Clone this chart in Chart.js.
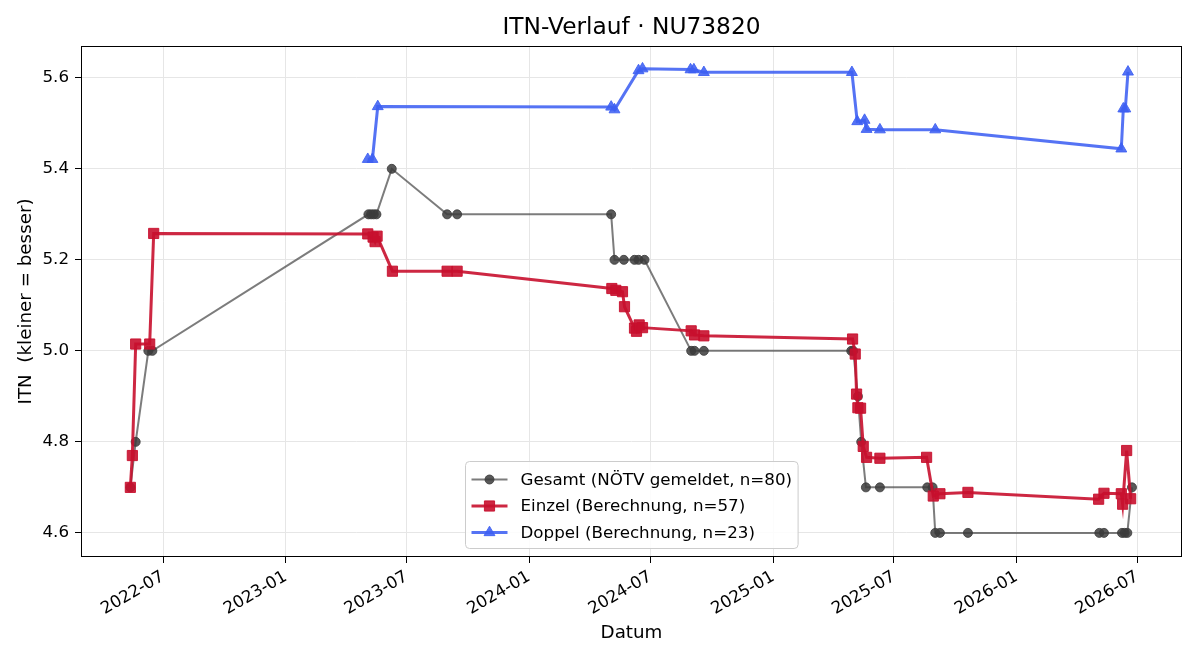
<!DOCTYPE html>
<html>
<head>
<meta charset="utf-8">
<script src="https://cdn.jsdelivr.net/npm/chart.js@4.4.1/dist/chart.umd.min.js"></script>
<style>
  html, body { margin: 0; padding: 0; background: #fff; }
  #wrap { width: 1200px; height: 660px; position: relative; }
</style>
</head>
<body>
<div id="wrap"><canvas id="itnChart"></canvas></div>
<script>
// Achsenbeschriftungen
const xTickLabels = ['2022-07', '2023-01', '2023-07', '2024-01', '2024-07', '2025-01', '2025-07', '2026-01', '2026-07'];
const yTickValues = [4.6, 4.8, 5.0, 5.2, 5.4, 5.6];

// Gesamt (NÖTV gemeldet)
const gesamtDatum = ['2022-05-13', '2022-05-21', '2022-06-09', '2022-06-15',
  '2023-05-05', '2023-05-09', '2023-05-13', '2023-05-17', '2023-06-09', '2023-08-31', '2023-09-15',
  '2024-05-03', '2024-05-08', '2024-05-22', '2024-06-07', '2024-06-13', '2024-06-22',
  '2024-08-31', '2024-09-05', '2024-09-19',
  '2025-04-28', '2025-05-01', '2025-05-08', '2025-05-13', '2025-05-20', '2025-06-10',
  '2025-08-20', '2025-08-28', '2025-09-01', '2025-09-08', '2025-10-20',
  '2026-05-05', '2026-05-12', '2026-06-08', '2026-06-12', '2026-06-16', '2026-06-23'];
const gesamtITN = [4.7, 4.8, 5.0, 5.0,
  5.3, 5.3, 5.3, 5.3, 5.4, 5.3, 5.3,
  5.3, 5.2, 5.2, 5.2, 5.2, 5.2,
  5.0, 5.0, 5.0,
  5.0, 5.0, 4.9, 4.8, 4.7, 4.7,
  4.7, 4.7, 4.6, 4.6, 4.6,
  4.6, 4.6, 4.6, 4.6, 4.6, 4.7];

// Einzel (Berechnung)
const einzelDatum = ['2022-05-13', '2022-05-16', '2022-05-21', '2022-06-11', '2022-06-17',
  '2023-05-04', '2023-05-12', '2023-05-15', '2023-05-18', '2023-06-10', '2023-08-31', '2023-09-15',
  '2024-05-04', '2024-05-10', '2024-05-20', '2024-05-23', '2024-06-07', '2024-06-10', '2024-06-14', '2024-06-19',
  '2024-08-31', '2024-09-05', '2024-09-19',
  '2025-04-30', '2025-05-04', '2025-05-06', '2025-05-08', '2025-05-12', '2025-05-16', '2025-05-21', '2025-06-10',
  '2025-08-19', '2025-08-29', '2025-09-08', '2025-10-20',
  '2026-05-04', '2026-05-12', '2026-06-07', '2026-06-09', '2026-06-15', '2026-06-21'];
const einzelITN = [4.70, 4.77, 5.015, 5.015, 5.258,
  5.257, 5.250, 5.240, 5.252, 5.175, 5.175, 5.175,
  5.137, 5.133, 5.130, 5.097, 5.050, 5.043, 5.057, 5.051,
  5.044, 5.035, 5.033,
  5.026, 4.993, 4.905, 4.875, 4.874, 4.790, 4.766, 4.764,
  4.766, 4.681, 4.686, 4.689,
  4.674, 4.687, 4.686, 4.663, 4.781, 4.675];

// Doppel (Berechnung)
const doppelDatum = ['2023-05-04', '2023-05-11', '2023-05-19',
  '2024-05-03', '2024-05-08', '2024-06-13', '2024-06-19', '2024-08-30', '2024-09-04', '2024-09-19',
  '2025-04-29', '2025-05-07', '2025-05-18', '2025-05-21', '2025-06-10', '2025-09-01',
  '2026-06-07', '2026-06-10', '2026-06-13', '2026-06-17'];
const doppelITN = [5.421, 5.421, 5.537,
  5.536, 5.530, 5.616, 5.620, 5.618, 5.618, 5.612,
  5.612, 5.504, 5.507, 5.487, 5.486, 5.486,
  5.444, 5.532, 5.532, 5.613];

const toMs = s => { const [y, m, d] = s.split('-').map(Number); return Date.UTC(y, m - 1, d); };
const punkte = (datum, werte) => datum.map((d, i) => ({ x: toMs(d), y: werte[i] }));
const xTickValues = xTickLabels.map(l => toMs(l + '-01'));

const schrift = '"DejaVu Sans", sans-serif';

// Rahmen um den Plotbereich
const rahmen = {
  id: 'rahmen',
  afterDatasetsDraw(chart) {
    const { ctx, chartArea: a } = chart;
    ctx.save();
    ctx.strokeStyle = '#000';
    ctx.lineWidth = 1;
    ctx.strokeRect(Math.round(a.left) + 0.5, Math.round(a.top) + 0.5,
      Math.round(a.right - a.left) - 1, Math.round(a.bottom - a.top) - 1);
    ctx.restore();
  }
};

// Legende unten mittig im Plotbereich
const legende = {
  id: 'legende',
  afterDraw(chart) {
    const { ctx, chartArea: a } = chart;
    const sets = chart.data.datasets;
    ctx.save();
    ctx.font = '16.7px ' + schrift;
    const textW = Math.max(...sets.map(ds => ctx.measureText(ds.label).width));
    const w = 55 + textW + 6, h = 87;
    const x0 = Math.round((a.left + a.right) / 2 - w / 2) + 0.5, y0 = Math.round(a.bottom - 9 - h) + 0.5;
    ctx.beginPath();
    ctx.roundRect(x0, y0, w, h, 4);
    ctx.fillStyle = 'rgba(255,255,255,0.85)';
    ctx.fill();
    ctx.strokeStyle = '#cccccc';
    ctx.lineWidth = 1;
    ctx.stroke();
    sets.forEach((ds, i) => {
      const y = y0 + 18 + i * 26.5;
      ctx.strokeStyle = ds.borderColor;
      ctx.lineWidth = ds.borderWidth;
      ctx.beginPath();
      ctx.moveTo(x0 + 6, y);
      ctx.lineTo(x0 + 42, y);
      ctx.stroke();
      ctx.fillStyle = ds.pointBackgroundColor;
      ctx.strokeStyle = ds.pointBorderColor;
      ctx.lineWidth = 1;
      Chart.helpers.drawPoint(ctx, { pointStyle: ds.pointStyle, radius: ds.pointRadius, rotation: 0, borderWidth: 1 }, x0 + 24, y);
      ctx.fillStyle = '#000';
      ctx.textBaseline = 'middle';
      ctx.fillText(ds.label, x0 + 55, y + 1);
    });
    ctx.restore();
  }
};

const ctx = document.getElementById('itnChart').getContext('2d');
const itnChart = new Chart(ctx, {
  type: 'line',
  data: {
    datasets: [{
      label: 'Gesamt (NÖTV gemeldet, n=80)',
      data: punkte(gesamtDatum, gesamtITN),
      borderColor: 'rgba(68,68,68,0.7)',
      borderWidth: 2,
      pointStyle: 'circle',
      pointRadius: 4.5,
      pointBackgroundColor: 'rgba(60,60,60,0.85)',
      pointBorderColor: 'rgba(60,60,60,0.85)',
      pointBorderWidth: 1,
      order: 2
    }, {
      label: 'Einzel (Berechnung, n=57)',
      data: punkte(einzelDatum, einzelITN),
      borderColor: 'rgba(200,16,46,0.9)',
      borderWidth: 3,
      pointStyle: 'rect',
      pointRadius: 7.2,
      pointBackgroundColor: 'rgba(200,16,46,0.9)',
      pointBorderColor: 'rgba(200,16,46,0.9)',
      pointBorderWidth: 1,
      order: 1
    }, {
      label: 'Doppel (Berechnung, n=23)',
      data: punkte(doppelDatum, doppelITN),
      borderColor: 'rgba(61,96,242,0.88)',
      borderWidth: 3,
      pointStyle: 'triangle',
      pointRadius: 6.3,
      pointBackgroundColor: 'rgba(61,96,242,0.88)',
      pointBorderColor: 'rgba(61,96,242,0.88)',
      pointBorderWidth: 1,
      order: 0
    }]
  },
  options: {
    responsive: true,
    maintainAspectRatio: false,
    animation: false,
    events: [],
    layout: { padding: { left: 0, right: 18, top: 0, bottom: 0 } },
    plugins: {
      legend: { display: false },
      tooltip: { enabled: false },
      title: {
        display: true,
        fullSize: false,
        text: 'ITN-Verlauf · NU73820',
        color: '#000',
        font: { family: schrift, size: 23.3, weight: 'normal', lineHeight: 1.2 },
        padding: { top: 14, bottom: 4 }
      }
    },
    scales: {
      x: {
        type: 'linear',
        min: Date.UTC(2022, 1, 28),
        max: Date.UTC(2026, 8, 6),
        afterBuildTicks: scale => { scale.ticks = xTickValues.map(v => ({ value: v })); },
        afterFit: scale => { scale.height = 103; },
        ticks: {
          autoSkip: false,
          minRotation: 30,
          maxRotation: 30,
          padding: 4,
          color: '#000',
          font: { family: schrift, size: 16.7 },
          callback: (value, index) => xTickLabels[index]
        },
        grid: { color: '#e6e6e6', tickColor: '#000', tickLength: 6 },
        border: { display: false },
        title: {
          display: true,
          text: 'Datum',
          color: '#000',
          font: { family: schrift, size: 18.3 },
          padding: { top: 4, bottom: 16 }
        }
      },
      y: {
        min: 4.547,
        max: 5.670,
        afterBuildTicks: scale => { scale.ticks = yTickValues.map(v => ({ value: v })); },
        afterFit: scale => { scale.width = 81; },
        ticks: {
          padding: 6,
          color: '#000',
          font: { family: schrift, size: 16.7 },
          callback: value => value.toFixed(1)
        },
        grid: { color: '#e6e6e6', tickColor: '#000', tickLength: 6 },
        border: { display: false },
        title: {
          display: true,
          text: 'ITN  (kleiner = besser)',
          color: '#000',
          font: { family: schrift, size: 18.3 },
          padding: { top: 15, bottom: 4 }
        }
      }
    }
  },
  plugins: [rahmen, legende]
});
</script>
</body>
</html>
